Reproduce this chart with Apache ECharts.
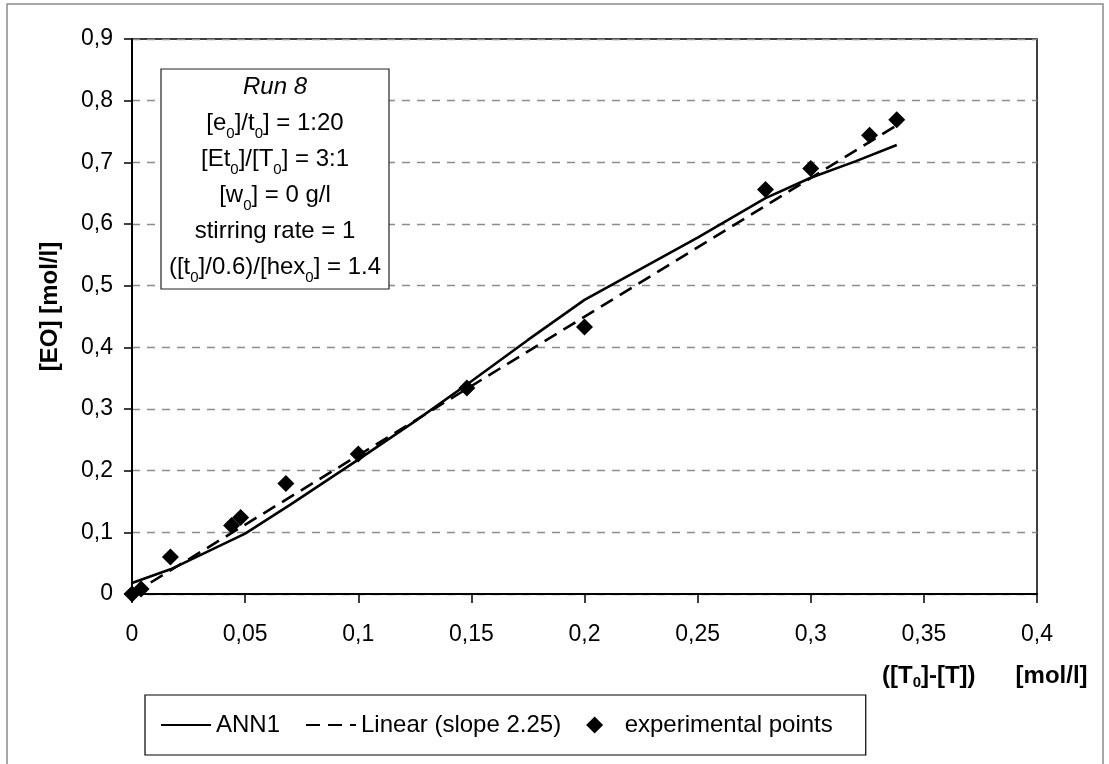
<!DOCTYPE html>
<html>
<head>
<meta charset="utf-8">
<title>Run 8</title>
<script src="https://cdn.jsdelivr.net/npm/echarts@6/dist/echarts.min.js"></script>
<style>
  html, body { margin: 0; padding: 0; background: #fff; }
  #chart { width: 1109px; height: 764px; }
</style>
</head>
<body>
<div id="chart"></div>
<script>
// values
const xTicks = [0, 0.05, 0.1, 0.15, 0.2, 0.25, 0.3, 0.35, 0.4];
const yTicks = [0, 0.1, 0.2, 0.3, 0.4, 0.5, 0.6, 0.7, 0.8, 0.9];

// ANN1 model curve
const annX = [0, 0.017, 0.05, 0.07, 0.1, 0.125, 0.15, 0.175, 0.2, 0.25, 0.28, 0.3, 0.32, 0.338];
const annY = [0.018, 0.04, 0.098, 0.145, 0.218, 0.28, 0.345, 0.412, 0.477, 0.578, 0.642, 0.675, 0.702, 0.728];

// linear fit, slope 2.25 (end points)
const linX = [0, 0.338];
const linY = [0, 0.76];

// experimental points
const expX = [0, 0.004, 0.017, 0.044, 0.048, 0.068, 0.1, 0.148, 0.2, 0.28, 0.3, 0.326, 0.338];
const expY = [0, 0.008, 0.06, 0.111, 0.124, 0.179, 0.227, 0.334, 0.433, 0.656, 0.69, 0.744, 0.769];

const noteLines = [
  '{it|Run 8}',
  '[e{sub|0}]/t{sub|0}] = 1:20',
  '[Et{sub|0}]/[T{sub|0}] = 3:1',
  '[w{sub|0}] = 0 g/l',
  'stirring rate = 1',
  '([t{sub|0}]/0.6)/[hex{sub|0}] = 1.4'
];

const FONT = '"Liberation Sans", Arial, sans-serif';
// diamond as a path so the legend keeps it square
const DIAMOND = 'path://M0,-1 L1,0 L0,1 L-1,0 Z';

function pairs(xs, ys) {
  return xs.map((x, i) => [x, ys[i]]);
}
function comma(v) {
  return String(+v.toFixed(2)).replace('.', ',');
}

let myChart = echarts.init(document.getElementById('chart'));

let option = {
  backgroundColor: '#fff',
  animation: false,
  grid: {
    left: 132,
    right: 72,
    top: 39,
    bottom: 170,
    show: true,
    borderColor: '#000',
    borderWidth: 1.5,
    outerBoundsMode: 'none'
  },
  legend: {
    left: 145,
    top: 695,
    orient: 'horizontal',
    padding: [18, 33, 18, 15],
    itemGap: 25,
    itemWidth: 50,
    itemHeight: 17,
    symbolKeepAspect: true,
    borderColor: '#000',
    borderWidth: 1.2,
    backgroundColor: '#fff',
    textStyle: { color: '#000', fontSize: 24, fontFamily: FONT },
    data: [
      // line samples only, no marker on them
      { name: 'ANN1', itemStyle: { color: 'rgba(0,0,0,0)', opacity: 0 } },
      { name: 'Linear (slope 2.25)', itemStyle: { color: 'rgba(0,0,0,0)', opacity: 0 } },
      { name: 'experimental points', icon: DIAMOND }
    ]
  },
  xAxis: {
    type: 'value',
    min: xTicks[0],
    max: xTicks[xTicks.length - 1],
    interval: 0.05,
    name: '([T{sub|0}]-[T])      [mol/l]',
    nameLocation: 'end',
    nameGap: -155,
    nameMoveOverlap: false,
    nameTextStyle: {
      align: 'left',
      verticalAlign: 'top',
      padding: [68, 0, 0, 0],
      color: '#000',
      fontSize: 24,
      fontWeight: 'bold',
      fontFamily: FONT,
      lineHeight: 28,
      rich: {
        sub: { fontSize: 15, fontWeight: 'bold', fontFamily: FONT, verticalAlign: 'bottom', lineHeight: 18 }
      }
    },
    axisLine: { show: true, onZero: false, lineStyle: { color: '#000', width: 2 } },
    axisTick: { show: true, inside: false, length: 9, lineStyle: { color: '#000', width: 1.5 } },
    axisLabel: { margin: 29, color: '#000', fontSize: 23, fontFamily: FONT, formatter: comma },
    splitLine: { show: false }
  },
  yAxis: {
    type: 'value',
    min: yTicks[0],
    max: yTicks[yTicks.length - 1],
    interval: 0.1,
    name: '[EO] [mol/l]',
    nameLocation: 'middle',
    nameGap: 70,
    nameTextStyle: { color: '#000', fontSize: 24, fontWeight: 'bold', fontFamily: FONT, padding: [0, 0, 0, 20] },
    axisLine: { show: true, onZero: false, lineStyle: { color: '#000', width: 2 } },
    axisTick: { show: true, inside: false, length: 8, lineStyle: { color: '#000', width: 1.5 } },
    axisLabel: { margin: 19, color: '#000', fontSize: 23, fontFamily: FONT, formatter: comma },
    splitLine: { show: true, lineStyle: { color: '#8c8c8c', width: 1.3, type: [8, 7] } }
  },
  graphic: [
    {
      // outer chart frame
      type: 'rect',
      z: 0,
      silent: true,
      shape: { x: 7, y: 4, width: 1096, height: 800 },
      style: { fill: null, stroke: '#8a8a8a', lineWidth: 1.5 }
    },
    {
      type: 'rect',
      z: 10,
      silent: true,
      shape: { x: 161, y: 69, width: 228, height: 220 },
      style: { fill: '#fff', stroke: '#222', lineWidth: 1.2 }
    },
    {
      type: 'text',
      z: 11,
      silent: true,
      x: 275,
      y: 69,
      style: {
        text: noteLines.join('\n'),
        align: 'center',
        verticalAlign: 'top',
        fill: '#000',
        fontSize: 24,
        fontFamily: FONT,
        lineHeight: 36,
        rich: {
          it: { fontSize: 24, fontStyle: 'italic', fontFamily: FONT, lineHeight: 36 },
          sub: { fontSize: 15, fontFamily: FONT, verticalAlign: 'bottom', lineHeight: 20 }
        }
      }
    }
  ],
  series: [
    {
      name: 'ANN1',
      type: 'line',
      data: pairs(annX, annY),
      symbol: 'none',
      z: 3,
      itemStyle: { color: '#000' },
      lineStyle: { color: '#000', width: 2.6, type: 'solid' }
    },
    {
      name: 'Linear (slope 2.25)',
      type: 'line',
      data: pairs(linX, linY),
      symbol: 'none',
      z: 3,
      itemStyle: { color: '#000' },
      lineStyle: { color: '#000', width: 2.6, type: [14, 8] }
    },
    {
      name: 'experimental points',
      type: 'scatter',
      data: pairs(expX, expY),
      symbol: 'diamond',
      symbolSize: 17,
      z: 4,
      itemStyle: { color: '#000', opacity: 1 }
    }
  ]
};

myChart.setOption(option);
window.onresize = function () {
  myChart.resize();
};
</script>
</body>
</html>
